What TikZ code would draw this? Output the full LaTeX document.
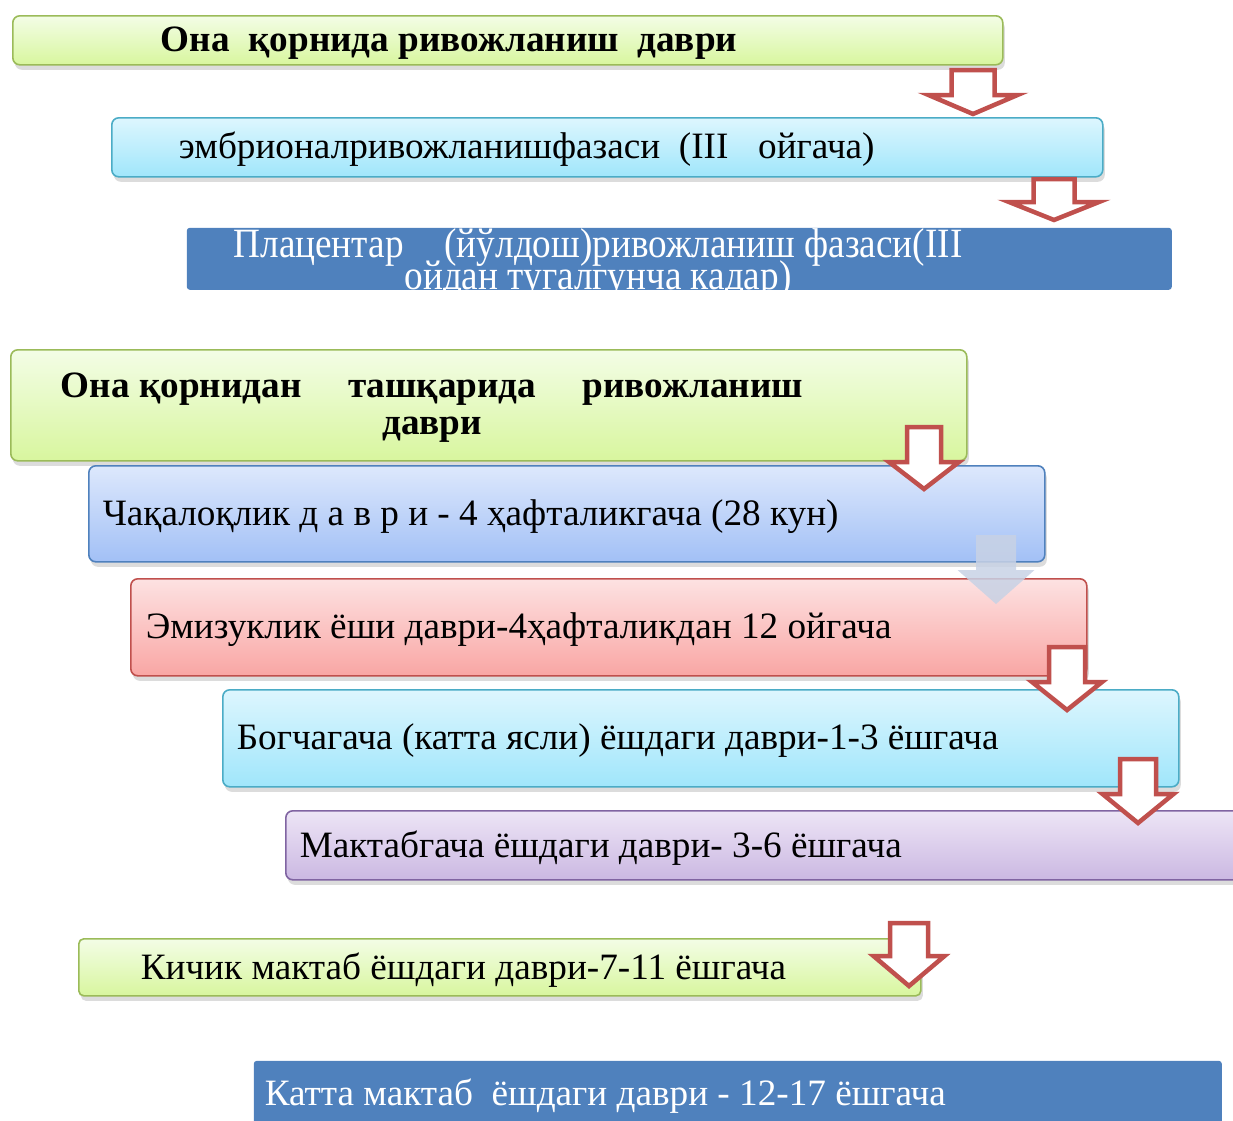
\documentclass[tikz,border=0pt]{standalone}
\usepackage{fontspec}
\setmainfont{Liberation Serif}
\usepackage{xcolor}
\usetikzlibrary{calc,shadows}

\definecolor{grnline}{HTML}{9BBB59}
\definecolor{grntop}{HTML}{F3FDE6}
\definecolor{grnbot}{HTML}{D8F69E}
\definecolor{cynline}{HTML}{4BACC6}
\definecolor{cyntop}{HTML}{DDF6FE}
\definecolor{cynbot}{HTML}{A0E6FB}
\definecolor{bluline}{HTML}{4F81BD}
\definecolor{blutop}{HTML}{DDE8FC}
\definecolor{blubot}{HTML}{A2C0F6}
\definecolor{redline}{HTML}{C0504D}
\definecolor{redtop}{HTML}{FDE2E2}
\definecolor{redbot}{HTML}{F9A6A4}
\definecolor{purline}{HTML}{8064A2}
\definecolor{purtop}{HTML}{EDE5F6}
\definecolor{purbot}{HTML}{CBB8E2}
\definecolor{fadearr}{HTML}{C8D2E5}

% tip, length, half stem, half head, head length
\newcommand{\blockdown}[6][]{%
  \draw[blockarrow,#1] ($(#2)+(-#4,-#3)$) -- ($(#2)+(#4,-#3)$) -- ($(#2)+(#4,-#6)$)
    -- ($(#2)+(#5,-#6)$) -- (#2) -- ($(#2)+(-#5,-#6)$) -- ($(#2)+(-#4,-#6)$) -- cycle;}

\begin{document}
\begin{tikzpicture}[x=1pt,y=-1pt,line width=1.6pt,
    stage/.style={draw, rounded corners=7pt, anchor=north west, inner sep=0pt,
      drop shadow={shadow xshift=2pt, shadow yshift=-5pt, opacity=0.28}},
    greenbox/.style={stage, draw=grnline, top color=grntop, bottom color=grnbot},
    cyanbox/.style={stage, draw=cynline, top color=cyntop, bottom color=cynbot},
    bluebox/.style={stage, draw=bluline, top color=blutop, bottom color=blubot},
    pinkbox/.style={stage, draw=redline, top color=redtop, bottom color=redbot},
    lilacbox/.style={stage, draw=purline, top color=purtop, bottom color=purbot},
    solidbox/.style={anchor=north west, inner sep=0pt, rounded corners=3pt, fill=bluline},
    stagetext/.style={anchor=base west, inner sep=0pt, font=\fontsize{37.2}{37}\selectfont},
    headtext/.style={stagetext, font=\bfseries\fontsize{37.2}{37}\selectfont},
    blockarrow/.style={draw=redline, fill=white, line width=4.5pt, line join=miter}]
  \useasboundingbox (0,0) rectangle (1233,1120);

  % before birth
  \node[greenbox, minimum width=990pt, minimum height=49pt] (prenatal) at (12,15) {};
  \node[headtext] (prenatalT) at (160,51) {Она\hspace{0.5em}қорнида ривожланиш\hspace{0.5em}даври};
  \node[cyanbox, minimum width=991pt, minimum height=59pt] (embryo) at (111,117) {};
  \node[stagetext] (embryoT) at (178,158) {эмбрионалривожланишфазаси\hspace{0.5em}(III\hspace{0.8em}ойгача)};
  \node[solidbox, minimum width=985pt, minimum height=62pt] (placenta) at (186,227) {};
  \begin{scope}
    \clip[rounded corners=3pt] (placenta.north west) rectangle (placenta.south east);
    \node[stagetext, anchor=base, text=white] (placentaT) at (598,257)
      {\scalebox{1}[1.12]{\begin{tabular}[t]{@{}c@{}}Плацентар\hspace{1.1em}(йўлдош)ривожланиш фазаси(III\\[-8.4pt]
        ойдан тугалгунча кадар)\end{tabular}}};
  \end{scope}

  % after birth
  \node[greenbox, minimum width=956pt, minimum height=111pt] (postnatal) at (10,349) {};
  \node[headtext, anchor=center, align=center] (postnatalT) at (432,408)
    {Она қорнидан\hspace{1.25em}ташқарида\hspace{1.25em}ривожланиш\\даври};
  \node[bluebox, minimum width=956pt, minimum height=96pt] (newborn) at (88,465) {};
  \node[stagetext] (newbornT) at (102,525) {Чақалоқлик д а в р и - 4 ҳафталикгача (28 кун)};
  \node[pinkbox, minimum width=956pt, minimum height=97pt] (infant) at (130,578) {};
  \node[stagetext] (infantT) at (145,638) {Эмизуклик ёши даври-4ҳафталикдан 12 ойгача};
  \node[cyanbox, minimum width=956pt, minimum height=97pt] (toddler) at (222,689) {};
  \node[stagetext] (toddlerT) at (236,749) {Богчагача (катта ясли) ёшдаги даври-1-3 ёшгача};
  \node[lilacbox, minimum width=980pt, minimum height=69pt] (preschool) at (285,810) {};
  \node[stagetext] (preschoolT) at (299,857) {Мактабгача ёшдаги даври- 3-6 ёшгача};
  \node[greenbox, rounded corners=5pt, minimum width=842pt, minimum height=57pt] (junior) at (78,938) {};
  \node[stagetext] (juniorT) at (140,979) {Кичик мактаб ёшдаги даври-7-11 ёшгача};
  \node[solidbox, minimum width=968pt, minimum height=80pt] (senior) at (253,1060) {};
  \node[stagetext, text=white] (seniorT) at (264,1105) {Катта мактаб\hspace{0.5em}ёшдаги даври - 12-17 ёшгача};

  % arrows
  \coordinate (tip1) at (973,114);
  \coordinate (tip2) at (1054,220);
  \coordinate (tip3) at (924,489);
  \coordinate (tip4) at (996,604);
  \coordinate (tip5) at (1067,710);
  \coordinate (tip6) at (1138,823);
  \coordinate (tip7) at (909,986);
  \blockdown{tip1}{44}{21.5}{44.5}{19}
  \blockdown{tip2}{41}{20.5}{45}{18}
  \blockdown{tip3}{62}{17}{35}{27}
  \blockdown[draw=none, fill=fadearr, fill opacity=0.85]{tip4}{69}{20}{38.5}{34}
  \blockdown{tip5}{63}{18}{35}{28}
  \blockdown{tip6}{64}{18}{35.5}{29}
  \blockdown{tip7}{63}{19}{35.5}{30}
\end{tikzpicture}
\end{document}
